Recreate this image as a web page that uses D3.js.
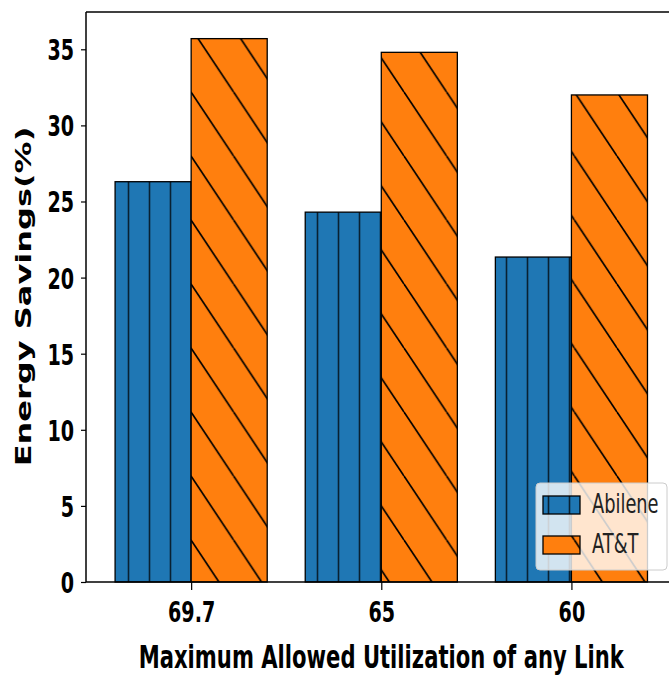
<!DOCTYPE html>
<html><head><meta charset="utf-8">
<script src="https://cdn.jsdelivr.net/npm/d3@7"></script>
<style>
html,body{margin:0;padding:0;background:#fff;}
svg{display:block;}
</style></head>
<body>
<svg id="chart" width="669" height="675"></svg>
<script>
// ---- data ----
const categories = ["69.7", "65", "60"];
const abilene = [26.3, 24.3, 21.35];
const att = [35.7, 34.8, 32.0];
const seriesNames = ["Abilene", "AT&T"];
const yTicks = [0, 5, 10, 15, 20, 25, 30, 35];
const xLabel = "Maximum Allowed Utilization of any Link";
const yLabel = "Energy Savings(%)";

// ---- layout ----
const mLeft = 86, mRight = 676, mTop = 12, mBottom = 582;
const SX = 0.66; // horizontal squeeze of the picture
const barW = 0.4;

const svg = d3.select("#chart");
const x = d3.scaleLinear().domain([-0.553, 2.55]).range([mLeft, mRight]);
const y = d3.scaleLinear().domain([0, 37.45]).range([mBottom, mTop]);

// ---- patterns ----
const defs = svg.append("defs");
const vp = 21;
const vert = defs.append("pattern").attr("id", "hatchV")
  .attr("patternUnits", "userSpaceOnUse")
  .attr("x", 118).attr("y", 0).attr("width", vp).attr("height", 20);
vert.append("line").attr("x1", vp / 2).attr("x2", vp / 2).attr("y1", -1).attr("y2", 21)
  .attr("stroke", "#000").attr("stroke-width", 1.6).attr("stroke-opacity", 0.72);

const dW = 42.6, dH = 64;
const diag = defs.append("pattern").attr("id", "hatchD")
  .attr("patternUnits", "userSpaceOnUse")
  .attr("x", 191).attr("y", 92).attr("width", dW).attr("height", dH);
[0, dW, -dW].forEach(ox => {
  diag.append("line")
    .attr("x1", ox).attr("y1", 0).attr("x2", ox + dW).attr("y2", dH)
    .attr("stroke", "#000").attr("stroke-width", 1.7);
});

// ---- bars ----
const series = [
  { name: seriesNames[0], values: abilene, color: "#1f77b4", fill: "url(#hatchV)", off: -barW },
  { name: seriesNames[1], values: att, color: "#ff7f0e", fill: "url(#hatchD)", off: 0 }
];
const gBars = svg.append("g");
series.forEach(s => {
  const g = gBars.append("g");
  g.selectAll("rect.base").data(s.values).join("rect").attr("class", "base")
    .attr("x", (d, i) => x(i + s.off)).attr("width", (d, i) => x(i + s.off + barW) - x(i + s.off))
    .attr("y", d => y(d)).attr("height", d => y(0) - y(d))
    .attr("fill", s.color);
  g.selectAll("rect.hatch").data(s.values).join("rect").attr("class", "hatch")
    .attr("x", (d, i) => x(i + s.off)).attr("width", (d, i) => x(i + s.off + barW) - x(i + s.off))
    .attr("y", d => y(d)).attr("height", d => y(0) - y(d))
    .attr("fill", s.fill).attr("stroke", "#000").attr("stroke-width", 1.3);
});

// ---- axes ----
const font = "'DejaVu Sans', sans-serif";
const yAxis = svg.append("g").attr("transform", `translate(${mLeft},0)`)
  .call(d3.axisLeft(y).tickValues(yTicks).tickSize(5).tickPadding(9).tickFormat(d3.format("d")));
yAxis.select(".domain").remove();
yAxis.selectAll(".tick line").attr("stroke", "#000").attr("stroke-width", 1.2);
yAxis.selectAll(".tick text")
  .attr("font-family", font).attr("font-weight", "bold").attr("font-size", 29)
  .attr("fill", "#000").attr("dy", "0.36em")
  .attr("x", -12 / SX).attr("transform", `scale(${SX},1)`);

const xAxis = svg.append("g").attr("transform", `translate(0,${mBottom})`)
  .call(d3.axisBottom(x).tickValues([0, 1, 2]).tickSize(8).tickFormat(i => categories[i]));
xAxis.select(".domain").remove();
xAxis.selectAll(".tick line").attr("stroke", "#000").attr("stroke-width", 1.2);
xAxis.selectAll(".tick text")
  .attr("font-family", font).attr("font-weight", "bold").attr("font-size", 29)
  .attr("fill", "#000").attr("y", 40).attr("dy", 0).attr("x", 0)
  .attr("transform", `scale(${SX},1)`);

// spines
const spines = svg.append("g").attr("stroke", "#000").attr("stroke-width", 1.5).attr("fill", "none");
spines.append("line").attr("x1", mLeft).attr("x2", mLeft).attr("y1", mTop).attr("y2", mBottom);
spines.append("line").attr("x1", mLeft).attr("x2", mRight).attr("y1", mBottom).attr("y2", mBottom);
spines.append("line").attr("x1", mLeft).attr("x2", mRight).attr("y1", mTop).attr("y2", mTop);
spines.append("line").attr("x1", mRight).attr("x2", mRight).attr("y1", mTop).attr("y2", mBottom);

// axis labels
svg.append("g").attr("transform", `translate(${(x(0) + x(2)) / 2},668) scale(${SX},1)`)
  .append("text").attr("text-anchor", "middle")
  .attr("font-family", font).attr("font-weight", "bold").attr("font-size", 32)
  .attr("fill", "#000").text(xLabel);

svg.append("g").attr("transform", `translate(31,296.5) scale(${SX},1) rotate(-90)`)
  .append("text").attr("text-anchor", "middle")
  .attr("font-family", font).attr("font-weight", "bold").attr("font-size", 32)
  .attr("fill", "#000").text(yLabel);

// ---- legend ----
const lg = svg.append("g");
lg.append("rect").attr("x", 536).attr("y", 483).attr("width", 131).attr("height", 87)
  .attr("rx", 4).attr("fill", "#fff").attr("fill-opacity", 0.8)
  .attr("stroke", "#ccc").attr("stroke-width", 1);
series.forEach((s, i) => {
  const py = 496 + i * 40;
  lg.append("rect").attr("x", 543).attr("y", py).attr("width", 37).attr("height", 18)
    .attr("fill", s.color);
  lg.append("rect").attr("x", 543).attr("y", py).attr("width", 37).attr("height", 18)
    .attr("fill", s.fill).attr("stroke", "#000").attr("stroke-width", 1.3);
  lg.append("g").attr("transform", `translate(592,${py + 17}) scale(${SX},1)`)
    .append("text").attr("font-family", font).attr("font-size", 27)
    .attr("fill", "#222").text(s.name);
});
</script>
</body></html>
